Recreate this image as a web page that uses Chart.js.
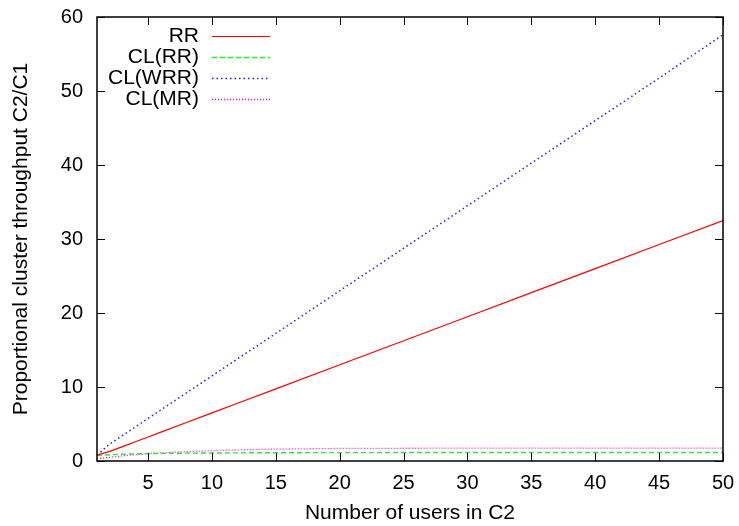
<!DOCTYPE html>
<html>
<head>
<meta charset="utf-8">
<script src="https://cdn.jsdelivr.net/npm/chart.js@4/dist/chart.umd.min.js"></script>
<style>
html,body{margin:0;padding:0;background:#fff;}
#wrap{width:739px;height:526px;position:relative;}
</style>
</head>
<body>
<div id="wrap"><canvas id="c" width="739" height="526"></canvas></div>
<script>
const xValues = [1,2,3,4,5,6,8,10,12,15,20,25,30,35,40,45,50];
const rrValues = [0.8,1.3,1.95,2.6,3.25,3.9,5.2,6.5,7.8,9.75,13,16.25,19.5,22.75,26,29.25,32.5];
const clRRValues = [0.75,0.85,0.92,0.97,1.0,1.03,1.06,1.08,1.1,1.12,1.13,1.14,1.15,1.15,1.15,1.15,1.15];
const clWRRValues = [0.8,2.3,3.45,4.6,5.75,6.9,9.2,11.5,13.8,17.25,23,28.75,34.5,40.25,46,51.75,57.6];
const clMRValues = [0.3,0.5,0.7,0.85,1.0,1.1,1.25,1.4,1.5,1.6,1.7,1.72,1.74,1.75,1.75,1.75,1.75];
const seriesNames = ['RR','CL(RR)','CL(WRR)','CL(MR)'];
const xTicks = [5,10,15,20,25,30,35,40,45,50];
const yTicks = [0,10,20,30,40,50,60];
const xTitle = 'Number of users in C2';
const yTitle = 'Proportional cluster throughput C2/C1';

const FONT = 'Liberation Sans, Arial, Helvetica, sans-serif';
const pts = vals => xValues.map((x,i)=>({x:x,y:vals[i]}));

const styles = [
  {color:'#ff0000', dash:[], width:1.2},
  {color:'#22ee22', dash:[5,3], width:1.4},
  {color:'#2020ff', dash:[1.5,3], width:1.5},
  {color:'#ff00ff', dash:[1,2], width:1.3}
];
const seriesVals = [rrValues, clRRValues, clWRRValues, clMRValues];

const datasets = seriesNames.map((n,i)=>({
  label:n, data:pts(seriesVals[i]), borderColor:styles[i].color,
  borderWidth:styles[i].width, borderDash:styles[i].dash,
  pointRadius:0, fill:false, tension:0
}));

const framePlugin = {
  id:'frame',
  afterDraw(chart){
    const ctx = chart.ctx, a = chart.chartArea;
    const xs = chart.scales.x, ys = chart.scales.y;
    ctx.save();
    ctx.strokeStyle = '#000'; ctx.lineWidth = 1.5; ctx.setLineDash([]);
    ctx.strokeRect(a.left, a.top, a.right-a.left, a.bottom-a.top);
    ctx.lineWidth = 1;
    const L = 8;
    ctx.beginPath();
    xTicks.forEach(v=>{
      const p = Math.round(xs.getPixelForValue(v))+0.5;
      ctx.moveTo(p,a.bottom); ctx.lineTo(p,a.bottom-L);
      ctx.moveTo(p,a.top); ctx.lineTo(p,a.top+L);
    });
    yTicks.forEach(v=>{
      const p = Math.round(ys.getPixelForValue(v))+0.5;
      ctx.moveTo(a.left,p); ctx.lineTo(a.left+L,p);
      ctx.moveTo(a.right,p); ctx.lineTo(a.right-L,p);
    });
    ctx.stroke();
    // legend (gnuplot style)
    ctx.font = '21px ' + FONT;
    ctx.textAlign = 'right'; ctx.textBaseline = 'middle'; ctx.fillStyle = '#000';
    const textRight = 199, lx1 = 212, lx2 = 270, y0 = 36, dy = 21;
    seriesNames.forEach((name,i)=>{
      const y = y0 + i*dy;
      ctx.fillStyle = '#000';
      ctx.fillText(name, textRight, y);
      ctx.strokeStyle = styles[i].color; ctx.lineWidth = styles[i].width;
      ctx.setLineDash(styles[i].dash);
      ctx.beginPath(); ctx.moveTo(lx1, Math.round(y)+0.5); ctx.lineTo(lx2, Math.round(y)+0.5); ctx.stroke();
    });
    ctx.restore();
  }
};

new Chart(document.getElementById('c'), {
  type:'line',
  data:{datasets:datasets},
  options:{
    responsive:false, animation:false,
    layout:{padding:{top:17,right:16,left:0,bottom:0}},
    plugins:{legend:{display:false}, tooltip:{enabled:false}},
    scales:{
      x:{type:'linear', min:1, max:50,
        grid:{display:false, drawTicks:false},
        border:{display:false},
        afterBuildTicks(s){ s.ticks = xTicks.map(v=>({value:v})); },
        ticks:{font:{family:FONT,size:20}, color:'#000', padding:10, maxRotation:0, autoSkip:false},
        title:{display:true, text:xTitle, font:{family:FONT,size:21}, color:'#000', padding:{top:3,bottom:0}},
        afterFit(s){ s.height = 65; s.paddingLeft = 0; s.paddingRight = 0; }
      },
      y:{type:'linear', min:0, max:60,
        grid:{display:false, drawTicks:false},
        border:{display:false},
        afterBuildTicks(s){ s.ticks = yTicks.map(v=>({value:v})); },
        ticks:{font:{family:FONT,size:20}, color:'#000', padding:14},
        title:{display:true, text:yTitle, font:{family:FONT,size:21}, color:'#000', padding:{top:9,bottom:0}},
        afterFit(s){ s.width = 97; s.paddingTop = 0; s.paddingBottom = 0; }
      }
    }
  },
  plugins:[framePlugin]
});
</script>
</body>
</html>
